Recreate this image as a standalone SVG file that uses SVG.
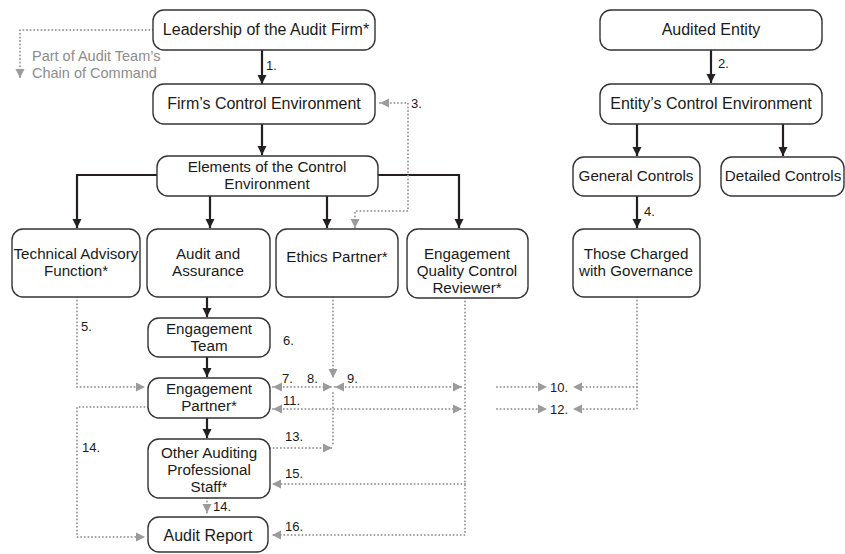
<svg xmlns="http://www.w3.org/2000/svg" width="845" height="554" viewBox="0 0 845 554">
  <style>
    .box rect { fill: #ffffff; stroke: #333333; stroke-width: 1.4; }
    .box text { font-family: "Liberation Sans", Arial, sans-serif; font-size: 15.2px; fill: #1a1a1a; text-anchor: middle; }
    .box text.big { font-size: 16px; }
    .solid { fill: none; stroke: #231f20; stroke-width: 2.2; marker-end: url(#ab); }
    .dot { fill: none; stroke: #9b9b9b; stroke-width: 2; stroke-dasharray: 0 3.6; stroke-linecap: round; }
    .ge { marker-end: url(#ag); }
    .gs { marker-start: url(#ag); }
    .num { font-family: "Liberation Sans", Arial, sans-serif; font-size: 13px; fill: #1a1a1a; }
    .legend { font-family: "Liberation Sans", Arial, sans-serif; font-size: 14.5px; fill: #8c8c8c; }
  </style>
  <defs>
    <marker id="ab" viewBox="0 0 10 10" refX="10" refY="5" markerWidth="9" markerHeight="10" markerUnits="userSpaceOnUse" orient="auto">
      <path d="M0,0 L10,5 L0,10 Z" fill="#231f20"/>
    </marker>
    <marker id="ag" viewBox="0 0 10 10" refX="10" refY="5" markerWidth="9" markerHeight="11" markerUnits="userSpaceOnUse" orient="auto-start-reverse">
      <path d="M0,0 L10,5 L0,10 Z" fill="#9b9b9b"/>
    </marker>
  </defs>

  <!-- connectors -->
  <g id="connectors">
    <!-- solid hierarchy lines -->
    <path class="solid" d="M262,50 V84"/>
    <path class="solid" d="M262,124 V155"/>
    <path class="solid" d="M157,175 H77 V228"/>
    <path class="solid" d="M210,196 V228"/>
    <path class="solid" d="M327,196 V228"/>
    <path class="solid" d="M378,175 H459 V228"/>
    <path class="solid" d="M207,297 V317"/>
    <path class="solid" d="M207,357 V377"/>
    <path class="solid" d="M207,418 V438"/>
    <path class="solid" d="M711,50 V83"/>
    <path class="solid" d="M637,124 V156"/>
    <path class="solid" d="M783,124 V156"/>
    <path class="solid" d="M637,196 V228"/>

    <!-- dotted communication lines -->
    <path class="dot ge" d="M153,30 H20 V78"/>
    <path class="dot ge gs" d="M380,103 H408 V211 H355 V228"/>
    <path class="dot ge" d="M77,297 V387 H145"/>
    <path class="dot ge" d="M148,407 H77 V537 H145"/>
    <path class="dot ge" d="M207,498 V513"/>
    <path class="dot ge" d="M333,297 V378"/>
    <path class="dot ge gs" d="M273,387 H332"/>
    <path class="dot ge gs" d="M335,387 H462"/>
    <path class="dot ge gs" d="M273,409 H462"/>
    <path class="dot" d="M333,393 V444"/>
    <path class="dot ge" d="M270,448 H332"/>
    <path class="dot ge" d="M465,298 V535 H272"/>
    <path class="dot ge" d="M465,484 H272"/>
    <path class="dot ge" d="M637,297 V409 H573"/>
    <path class="dot ge" d="M637,387 H573"/>
    <path class="dot ge" d="M497,387 H547"/>
    <path class="dot ge" d="M497,409 H547"/>
  </g>

  <!-- legend -->
  <g id="legend">
    <text class="legend" x="32" y="61">Part of Audit Team’s</text>
    <text class="legend" x="32" y="77.5">Chain of Command</text>
  </g>

  <!-- connector numbers -->
  <g id="labels">
    <text class="num" x="266" y="70">1.</text>
    <text class="num" x="718" y="68">2.</text>
    <text class="num" x="411" y="108">3.</text>
    <text class="num" x="644" y="216">4.</text>
    <text class="num" x="81" y="331">5.</text>
    <text class="num" x="283" y="345">6.</text>
    <text class="num" x="282" y="383">7.</text>
    <text class="num" x="307" y="383">8.</text>
    <text class="num" x="347" y="383">9.</text>
    <text class="num" x="550" y="392">10.</text>
    <text class="num" x="283" y="405">11.</text>
    <text class="num" x="550" y="414">12.</text>
    <text class="num" x="285" y="441">13.</text>
    <text class="num" x="82" y="452">14.</text>
    <text class="num" x="213" y="511">14.</text>
    <text class="num" x="285" y="478">15.</text>
    <text class="num" x="285" y="531">16.</text>
  </g>

  <!-- audit firm side -->
  <g id="leadership" class="box">
    <rect x="153" y="10" width="222" height="40" rx="11"/>
    <text class="big" x="266" y="35">Leadership of the Audit Firm*</text>
  </g>
  <g id="firm-control" class="box">
    <rect x="153" y="84" width="222" height="40" rx="11"/>
    <text class="big" x="264" y="109">Firm’s Control Environment</text>
  </g>
  <g id="elements" class="box">
    <rect x="157" y="156" width="221" height="40" rx="11"/>
    <text x="267" y="172">Elements of the Control</text>
    <text x="267" y="189">Environment</text>
  </g>
  <g id="technical-advisory" class="box">
    <rect x="12" y="229" width="128" height="68" rx="11"/>
    <text x="76" y="259">Technical Advisory</text>
    <text x="76" y="276">Function*</text>
  </g>
  <g id="audit-assurance" class="box">
    <rect x="147" y="229" width="123" height="68" rx="11"/>
    <text x="208" y="259">Audit and</text>
    <text x="208" y="276">Assurance</text>
  </g>
  <g id="ethics-partner" class="box">
    <rect x="276" y="229" width="122" height="68" rx="11"/>
    <text x="337" y="262">Ethics Partner*</text>
  </g>
  <g id="eqc-reviewer" class="box">
    <rect x="407" y="229" width="121" height="69" rx="11"/>
    <text x="467" y="259">Engagement</text>
    <text x="467" y="276">Quality Control</text>
    <text x="467" y="293">Reviewer*</text>
  </g>
  <g id="engagement-team" class="box">
    <rect x="148" y="318" width="122" height="39" rx="11"/>
    <text x="209" y="334">Engagement</text>
    <text x="209" y="351">Team</text>
  </g>
  <g id="engagement-partner" class="box">
    <rect x="148" y="378" width="122" height="40" rx="11"/>
    <text x="209" y="394">Engagement</text>
    <text x="209" y="411">Partner*</text>
  </g>
  <g id="other-staff" class="box">
    <rect x="148" y="439" width="122" height="59" rx="11"/>
    <text x="209" y="458">Other Auditing</text>
    <text x="209" y="475">Professional</text>
    <text x="209" y="492">Staff*</text>
  </g>
  <g id="audit-report" class="box">
    <rect x="148" y="517" width="120" height="35" rx="11"/>
    <text class="big" x="208" y="541">Audit Report</text>
  </g>

  <!-- audited entity side -->
  <g id="audited-entity" class="box">
    <rect x="600" y="10" width="222" height="40" rx="11"/>
    <text class="big" x="711" y="35">Audited Entity</text>
  </g>
  <g id="entity-control" class="box">
    <rect x="600" y="84" width="222" height="40" rx="11"/>
    <text class="big" x="711" y="109">Entity’s Control Environment</text>
  </g>
  <g id="general-controls" class="box">
    <rect x="573" y="157" width="127" height="39" rx="11"/>
    <text x="636" y="181">General Controls</text>
  </g>
  <g id="detailed-controls" class="box">
    <rect x="721" y="157" width="123" height="39" rx="11"/>
    <text x="783" y="181">Detailed Controls</text>
  </g>
  <g id="those-charged" class="box">
    <rect x="573" y="229" width="127" height="68" rx="11"/>
    <text x="636" y="259">Those Charged</text>
    <text x="636" y="276">with Governance</text>
  </g>
</svg>
